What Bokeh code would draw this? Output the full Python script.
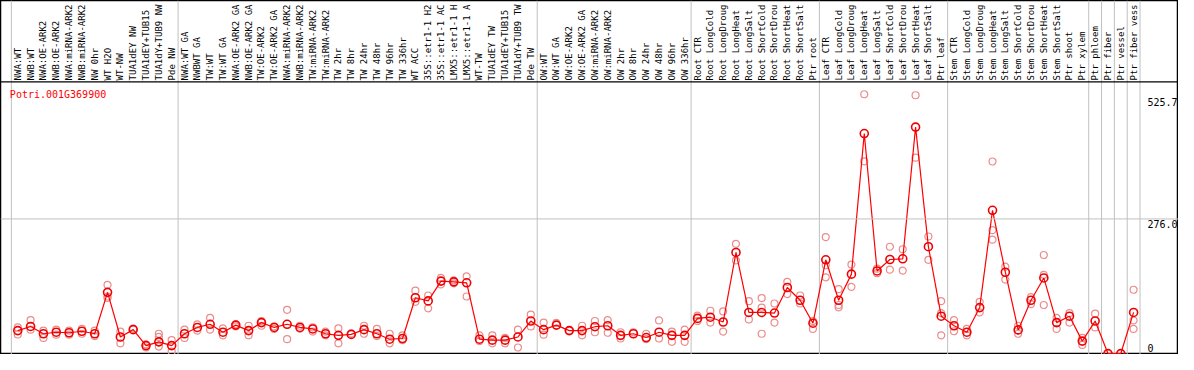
import math
from bokeh.plotting import figure
from bokeh.models import Range1d, Span
from bokeh.core.properties import value
from bokeh.embed import file_html
from bokeh.resources import INLINE

gene = "Potri.001G369900"

labels = [
    "NWA:WT", "NWB:WT", "NWA:OE-ARK2", "NWB:OE-ARK2", "NWA:miRNA-ARK2", "NWB:miRNA-ARK2",
    "NW 0hr", "WT H2O", "WT-NW", "TUA1dEY NW", "TUA1dEY+TUB15", "TUA1dY+TUB9 NW", "Pde NW",
    "NWA:WT GA", "NWBWT GA", "TW:WT", "TW:WT GA", "NWA:OE-ARK2 GA", "NWB:OE-ARK2 GA",
    "TW:OE-ARK2", "TW:OE-ARK2 GA", "NWA:miRNA-ARK2", "NWB:miRNA-ARK2", "TW:miRNA-ARK2",
    "TW:miRNA-ARK2", "TW 2hr", "TW 8hr", "TW 24hr", "TW 48hr", "TW 96hr", "TW 336hr",
    "WT ACC", "35S::etr1-1 H2", "35S::etr1-1 AC", "LMX5::etr1-1 H", "LMX5::etr1-1 A",
    "WT-TW", "TUA1dEY TW", "TUA1dEY+TUB15", "TUA1dY+TUB9 TW", "Pde TW",
    "OW:WT", "OW:WT GA", "OW:OE-ARK2", "OW:OE-ARK2 GA", "OW:miRNA-ARK2", "OW:miRNA-ARK2",
    "OW 2hr", "OW 8hr", "OW 24hr", "OW 48hr", "OW 96hr", "OW 336hr",
    "Root CTR", "Root LongCold", "Root LongDroug", "Root LongHeat", "Root LongSalt",
    "Root ShortCold", "Root ShortDrou", "Root ShortHeat", "Root ShortSalt", "Ptr root",
    "Leaf CTR", "Leaf LongCold", "Leaf LongDroug", "Leaf LongHeat", "Leaf LongSalt",
    "Leaf ShortCold", "Leaf ShortDrou", "Leaf ShortHeat", "Leaf ShortSalt", "Ptr leaf",
    "Stem CTR", "Stem LongCold", "Stem LongDroug", "Stem LongHeat", "Stem LongSalt",
    "Stem ShortCold", "Stem ShortDrou", "Stem ShortHeat", "Stem ShortSalt", "Ptr shoot",
    "Ptr xylem",
    "Ptr phloem", "Ptr fiber", "Ptr vessel", "Ptr fiber vess",
]

group_sizes = [13, 28, 12, 10, 10, 11, 1, 1, 1, 1]

means = [
    47, 55.5, 40.6, 43.7, 42.6, 45.7, 40.6, 125.5, 33.9, 49, 16.3, 24, 16.3,
    40.6, 53.5, 60, 43.7, 58.3, 47, 63.4, 53.5, 60, 53.5, 50.4, 40.6, 37.3, 39.2,
    49, 40.6, 29.4, 30.8, 114.4, 107.9, 148.5, 147, 145, 29.4, 27.5, 27.5, 34, 66.7,
    49, 58.3, 47, 47, 55, 57, 37.3, 40.6, 32.8, 43.7, 37.3, 37.3,
    72, 74.5, 64.7, 207.3, 84.3, 84.3, 83, 135.4, 109.3, 62.2,
    192.2, 109.3, 162.8, 451, 169.3, 192.8, 194.2, 464.3, 219, 76.5,
    57, 43.7, 94.2, 293.7, 166.7, 48.5, 109.3, 155, 63.4, 76.5, 25.5,
    66.7, 0, 0, 84.3,
]

replicates = [
    [53.5, 39], [68.7, 49], [47, 32], [49, 38.6], [47, 38.6], [50.4, 40.6], [47, 35.9],
    [140.6, 117, 114], [45, 21], [51], [19, 12.4], [40.6, 34, 14.3], [27.5, 4],
    [49, 32], [60, 47], [73, 49], [51.6, 37.3], [60, 55.5], [57, 37.3], [66.7, 57],
    [55.5, 50.4], [89.6, 29.4], [57, 51], [53.5, 45], [45, 37.3], [51.6, 21], [41],
    [57, 40.6], [50.4, 35.9], [40.6, 21], [37.3, 27.5], [128.9, 106], [119, 92.8],
    [155, 141.8], [150, 144], [158.3, 117], [37.3, 25.5], [37.3, 21], [32, 21],
    [49, 12.4], [79.8, 55.5],
    [63.4, 38.6], [62.8], [47], [57, 37.3], [66.7, 43.7], [68.7, 42.6], [43.7, 30.8],
    [43.7], [40.6, 29.4], [68, 30.8], [45, 24], [49, 24],
    [77.9, 66.7], [87.7, 63.4], [86.3, 45], [225, 190.9], [107.3, 70],
    [113.8, 94.2, 40.6], [102.6, 63.4], [147, 122], [119, 102.6], [66.7, 50.4],
    [238.7, 181, 156.3], [132, 99.5, 94.7], [182.4, 136.7], [531.6, 394], [164.8, 174],
    [219, 172], [213.8, 170], [529.6, 401.5], [240, 192.2], [107.3, 83, 37.3],
    [68.7, 45.7], [50.4, 37.3], [106, 84.3], [393.7, 253, 233.4], [178, 151.6],
    [57, 40.6], [115.7, 101.4], [202, 161.4, 99.5], [73, 50.4], [83, 63.4], [32, 17.7],
    [81.8, 53.5], [0], [0], [130.8, 68, 50.4],
]

tick_values = [525.7, 276.0, 0]
tick_labels = ["525.7", "276.0", "0"]

# ---- layout (reference pixel geometry -> data units) ----
COL_PX = 13.0          # column width in reference pixels
FIRST_PX = 17.5        # centre of first column
PX_PER_UNIT = 0.5098   # vertical pixels per expression unit
ZERO_PX = 369.0        # y pixel of value 0
REF_W, REF_H = 1194, 370

def xd(px):
    return (px - FIRST_PX) / COL_PX

def yd(py):
    return (ZERO_PX - py) / PX_PER_UNIT

W, H = 1178, 354
p = figure(width=W, height=H, output_backend="svg", toolbar_location=None,
           x_range=Range1d(xd(0), xd(REF_W)), y_range=Range1d(yd(REF_H), yd(0)),
           min_border=0)
p.axis.visible = False
p.grid.visible = False
p.outline_line_color = "black"
p.outline_line_width = 1.5
p.background_fill_color = "white"
p.border_fill_color = "white"

n = len(labels)
xs = list(range(n))

# group separators
bounds = [-0.5]
acc = -0.5
for g in group_sizes:
    acc += g
    bounds.append(acc)
p.segment(x0=bounds, x1=bounds, y0=[yd(REF_H)] * len(bounds), y1=[yd(0)] * len(bounds),
          line_color="#c0c0c0", line_width=1)

# horizontal grid at middle tick
p.add_layout(Span(location=tick_values[1], dimension="width", line_color="#c0c0c0", line_width=1))
# separator below labels
p.add_layout(Span(location=yd(85), dimension="width", line_color="black", line_width=1.2))

# column labels
p.text(x=xs, y=[yd(83.5)] * n, text=labels, angle=math.pi / 2,
       text_align="left", text_baseline="middle",
       text_font=value("DejaVu Sans Mono"), text_font_size="9px", text_color="black")

# gene title
p.text(x=[xd(9.5)], y=[yd(92.5)], text=[gene], text_align="left", text_baseline="top",
       text_font=value("DejaVu Sans Mono"), text_font_size="10px", text_color="#ff0000")

# value labels on right
p.text(x=[xd(1162.5)] * 2, y=tick_values[:2], text=tick_labels[:2], text_align="left",
       text_baseline="top", y_offset=1,
       text_font=value("DejaVu Sans Mono"), text_font_size="10px", text_color="black")
p.text(x=[xd(1162.5)], y=tick_values[2:], text=tick_labels[2:], text_align="left",
       text_baseline="bottom", y_offset=-2,
       text_font=value("DejaVu Sans Mono"), text_font_size="10px", text_color="black")

# replicates
rx, ry = [], []
for i, reps in enumerate(replicates):
    for v in reps:
        rx.append(i)
        ry.append(v)
p.scatter(rx, ry, marker="circle", size=7, fill_color=None,
          line_color="#eb8c8c", line_width=1.2)

# mean line and markers
p.line(xs, means, line_color="#ff0000", line_width=1.2)
p.scatter(xs, means, marker="circle", size=8, fill_color=None,
          line_color="#ee0000", line_width=1.6)

open("out.html", "w").write(file_html(p, INLINE))
